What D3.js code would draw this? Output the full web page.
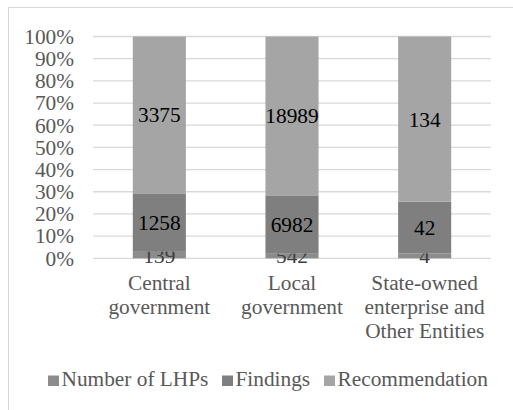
<!DOCTYPE html>
<html>
<head>
<meta charset="utf-8">
<script src="https://cdn.jsdelivr.net/npm/d3@7"></script>
<style>
  html, body { margin: 0; padding: 0; background: #fff; }
</style>
</head>
<body>
<svg id="chart" width="513" height="410"></svg>
<script>
// Audit counts per entity type, shown as shares of each column
const categories = [
  ["Central", "government"],
  ["Local", "government"],
  ["State-owned", "enterprise and", "Other Entities"]
];
const seriesNames = ["Number of LHPs", "Findings", "Recommendation"];
const lhps = [139, 542, 4];
const findings = [1258, 6982, 42];
const recommendations = [3375, 18989, 134];
const tickLabels = ["0%", "10%", "20%", "30%", "40%", "50%", "60%", "70%", "80%", "90%", "100%"];

const colors = ["#8c8c8c", "#7f7f7f", "#a5a5a5"];
const labelColors = ["#404040", "#000000", "#000000"];
const FONT = "'Liberation Serif'";
const FS = 21.33;

const svg = d3.select("#chart");
const W = 513, H = 410;
const margin = { left: 93, right: 22, top: 36.5, bottom: 151.7 };
const plotW = W - margin.left - margin.right;
const plotH = H - margin.top - margin.bottom;

// chart area frame
svg.append("rect")
  .attr("x", 8.5).attr("y", 7.5)
  .attr("width", 600).attr("height", 600)
  .attr("fill", "none").attr("stroke", "#d9d9d9").attr("stroke-width", 1);

const g = svg.append("g").attr("transform", `translate(${margin.left},${margin.top})`);

const rows = categories.map((c, i) => ({
  key: i,
  values: [lhps[i], findings[i], recommendations[i]]
}));

const x = d3.scaleBand().domain(rows.map(r => r.key)).range([0, plotW]).paddingInner(0).paddingOuter(0);
const y = d3.scaleLinear().domain([0, 1]).range([plotH, 0]);

// gridlines
g.append("g")
  .selectAll("line")
  .data(d3.range(0, 11).map(v => v / 10))
  .join("line")
  .attr("x1", 0).attr("x2", plotW)
  .attr("y1", d => y(d)).attr("y2", d => y(d))
  .attr("stroke", "#d9d9d9").attr("stroke-width", 1.3);

// y axis labels
const yAxis = d3.axisLeft(y)
  .tickValues(d3.range(0, 11).map(v => v / 10))
  .tickFormat((d, i) => tickLabels[i])
  .tickSize(0).tickPadding(19);
const ya = g.append("g").call(yAxis);
ya.select(".domain").remove();
ya.selectAll("text")
  .style("font-family", FONT)
  .style("font-size", FS + "px")
  .attr("fill", "#595959");

// stacked shares
const barFrac = 0.4;
const barW = x.bandwidth() * barFrac;
rows.forEach(r => {
  const total = d3.sum(r.values);
  let acc = 0;
  r.values.forEach((v, s) => {
    const y0 = acc / total, y1 = (acc + v) / total;
    acc += v;
    const bx = x(r.key) + (x.bandwidth() - barW) / 2;
    g.append("rect")
      .attr("x", bx).attr("width", barW)
      .attr("y", y(y1)).attr("height", y(y0) - y(y1))
      .attr("fill", colors[s]);
    g.append("text")
      .attr("x", x(r.key) + x.bandwidth() / 2)
      .attr("y", (y(y0) + y(y1)) / 2)
      .attr("dy", "0.35em")
      .attr("text-anchor", "middle")
      .style("font-family", FONT)
      .style("font-size", FS + "px")
      .attr("fill", labelColors[s])
      .text(v);
  });
});

// category labels
rows.forEach((r, i) => {
  const t = g.append("text")
    .attr("text-anchor", "middle")
    .style("font-family", FONT)
    .style("font-size", FS + "px")
    .attr("fill", "#595959");
  categories[i].forEach((line, j) => {
    t.append("tspan")
      .attr("x", x(r.key) + x.bandwidth() / 2)
      .attr("y", plotH + 31.7 + j * 24)
      .text(line);
  });
});

// legend
const legendItems = [
  { x: 48, text: seriesNames[0], color: colors[0] },
  { x: 222, text: seriesNames[1], color: colors[1] },
  { x: 324, text: seriesNames[2], color: colors[2] }
];
const legendBase = 386;
const lg = svg.append("g");
legendItems.forEach(it => {
  lg.append("rect")
    .attr("x", it.x).attr("y", legendBase - 10.5)
    .attr("width", 11).attr("height", 10.5)
    .attr("fill", it.color);
  lg.append("text")
    .attr("x", it.x + 13.5).attr("y", legendBase)
    .style("font-family", FONT)
    .style("font-size", FS + "px")
    .attr("fill", "#595959")
    .text(it.text);
});
</script>
</body>
</html>
